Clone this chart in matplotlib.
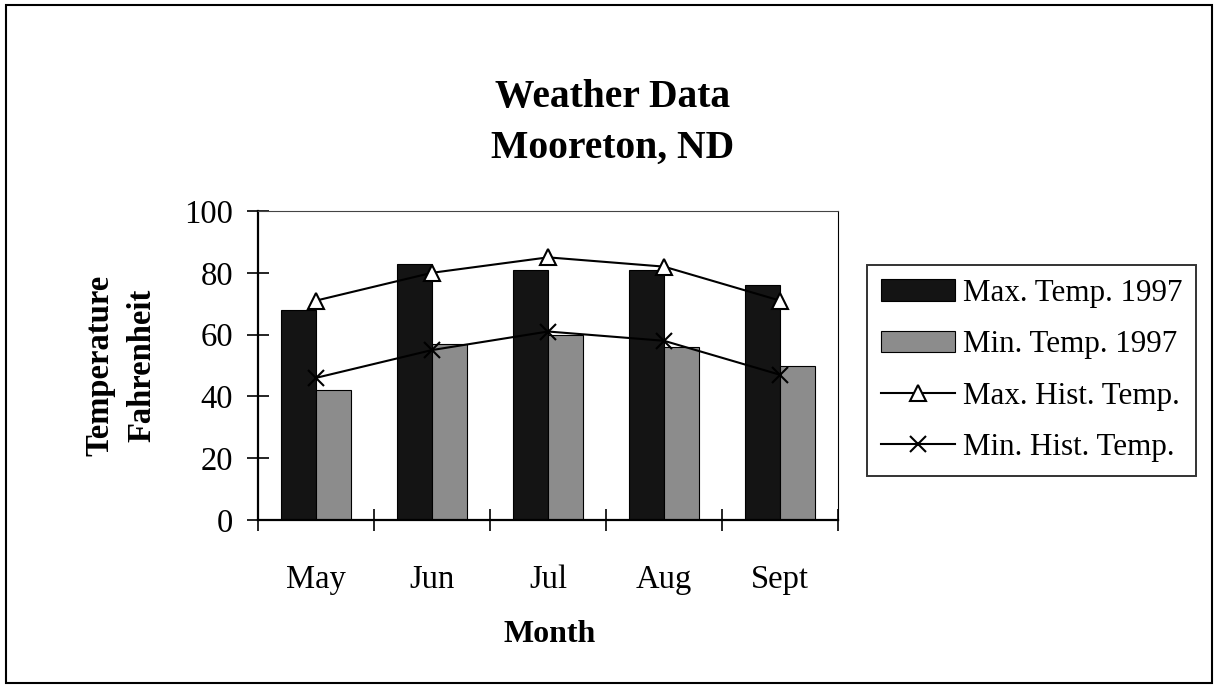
import numpy as np
import matplotlib
matplotlib.use("Agg")
import matplotlib.pyplot as plt
from matplotlib.patches import Rectangle

plt.rcParams['font.family'] = ['Liberation Serif', 'DejaVu Serif']

months = ["May", "Jun", "Jul", "Aug", "Sept"]
max_1997 = [68, 83, 81, 81, 76]
min_1997 = [42, 57, 60, 56, 50]
max_hist = [71, 80, 85, 82, 71]
min_hist = [46, 55, 61, 58, 47]

W, H = 1214, 688
fig = plt.figure(figsize=(W / 100, H / 100), dpi=100)
ax = fig.add_axes([258 / W, 1 - 520 / H, (838 - 258) / W, (520 - 211) / H])

x = np.arange(len(months))
bw = 0.3
b1 = ax.bar(x - bw / 2, max_1997, bw, color="#141414", edgecolor="black", linewidth=0.8,
            label="Max. Temp. 1997", zorder=2)
b2 = ax.bar(x + bw / 2, min_1997, bw, color="#8c8c8c", edgecolor="black", linewidth=0.8,
            label="Min. Temp. 1997", zorder=2)
l1, = ax.plot(x, max_hist, color="black", lw=1.5, marker="^", ms=11, mfc="white",
              mec="black", mew=1.5, label="Max. Hist. Temp.", zorder=3)
l2, = ax.plot(x, min_hist, color="black", lw=1.5, marker="x", ms=11, mew=1.5,
              label="Min. Hist. Temp.", zorder=3)

ax.set_xlim(-0.5, len(months) - 0.5)
ax.set_ylim(0, 100)
ax.set_yticks(range(0, 101, 20))
ax.set_xticks(np.arange(-0.5, len(months), 1.0))
ax.set_xticklabels([])
ax.set_xticks(x, minor=True)
ax.set_xticklabels(months, minor=True)
ax.tick_params(axis="x", which="major", direction="inout", length=16, width=1.2)
ax.tick_params(axis="x", which="minor", length=0, pad=32, labelsize=23.5)
ax.tick_params(axis="y", direction="inout", length=16, width=1.2, pad=10, labelsize=23.5)

ax.spines["left"].set_linewidth(1.6)
ax.spines["bottom"].set_linewidth(1.6)
ax.spines["top"].set_linewidth(0.8)
ax.spines["right"].set_linewidth(0.8)
ax.spines["top"].set_color("#444444")

fig.text(550 / W, 1 - 634 / H, "Month", fontsize=23, fontweight="bold",
         ha="center", va="center")
fig.text(100 / W, 1 - 365 / H, "Temperature", rotation=90, fontsize=23.5,
         fontweight="bold", ha="center", va="center")
fig.text(142 / W, 1 - 365 / H, "Fahrenheit", rotation=90, fontsize=23.5,
         fontweight="bold", ha="center", va="center")

fig.text(613 / W, 1 - 97 / H, "Weather Data", fontsize=28.5, fontweight="bold",
         ha="center", va="center")
fig.text(613 / W, 1 - 148 / H, "Mooreton, ND", fontsize=28.5, fontweight="bold",
         ha="center", va="center")

leg = fig.legend([b1, b2, l1, l2],
                 ["Max. Temp. 1997", "Min. Temp. 1997", "Max. Hist. Temp.", "Min. Hist. Temp."],
                 loc="upper left", bbox_to_anchor=(867 / W, 1 - 265 / H),
                 fontsize=22.3, frameon=True, fancybox=False, shadow=False,
                 handlelength=2.4, handletextpad=0.25, labelspacing=0.72,
                 borderpad=0.45, borderaxespad=0)
leg.get_frame().set_edgecolor("black")
leg.get_frame().set_linewidth(1.4)

fig.patches.append(Rectangle((6 / W, 5 / H), (1212 - 6) / W, (683 - 5) / H,
                             transform=fig.transFigure, fill=False,
                             edgecolor="black", linewidth=1.5))

plt.savefig("out.png", dpi=100)
